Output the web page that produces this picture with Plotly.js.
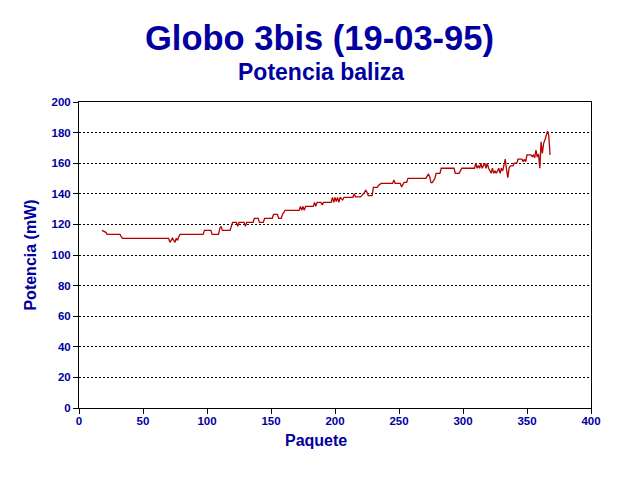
<!DOCTYPE html>
<html>
<head>
<meta charset="utf-8">
<script src="https://cdn.plot.ly/plotly-3.0.1.min.js"></script>
<style>html,body{margin:0;padding:0;background:#fff;}#chart{width:640px;height:480px;}</style>
</head>
<body>
<div id="chart"></div>
<script>
// Data
const paquete = [18,20,21,22,32,33,34,70,71,72,73,74,75,76,77,78,79,97,98,103,104,109,110,111,112,118,119,120,123,124,125,129,130,131,136,137,140,141,144,145,151,152,155,156,158,159,161,172,173,174,175,176,177,183,184,185,186,189,190,191,197,198,199,200,201,202,203,204,206,207,214,215,216,220,223,224,225,226,229,230,233,234,236,245,246,247,251,252,253,254,256,257,271,272,273,274,275,276,278,279,282,283,293,294,297,299,309,310,311,312,313,314,315,316,317,318,319,320,321,322,323,324,325,326,327,328,329,330,331,332,333,334,335,336,337,339,340,342,343,346,347,348,349,350,353,354,355,356,357,358,359,360,361,362,363,364,365,366,367,368];
const potencia = [116.1,115.2,114.8,113.5,113.5,112,110.9,110.9,108.3,109.6,110.9,109.6,108.3,110.9,109.6,112,113.5,113.5,116.1,116.1,113.5,113.5,117.4,118.7,116.1,116.1,118.7,121.3,121.3,118.7,121.3,121.3,118.7,121.3,121.3,124,124,121.3,121.3,124,124,126.6,126.6,124,124,126.6,129.2,129.2,131.8,129.2,131.8,129.2,131.8,131.8,134.4,131.8,134.4,134.4,132.7,134.4,134.4,137.7,134.4,137.7,135,137.7,134.4,137.7,136,137.7,137.7,140,138,138,140.7,142.5,141,138.8,138.8,144.2,144.2,145.5,146.8,146.8,149,146.8,146.8,144.5,146,147.5,147.5,150.1,150.1,151.5,153,151,147.3,147.3,150,153.4,153.4,156.7,156.7,153.4,153.4,156.7,156.7,160,156.7,158.5,156.7,160,156.7,158.4,160,156.7,160,156.7,155,153.4,156.7,153.4,155,153.4,155,156.7,153.4,156.7,155,158,162.7,156,150.5,156.7,158.2,158.2,160,160,162.6,162.6,161,162.6,161,165.4,165.4,164.3,165.4,163.5,168.6,164,166,156.7,174,166.4,173,175.2,178.4,181,178,165.4,161];
const yTicks = [0,20,40,60,80,100,120,140,160,180,200];
const xTicks = [0,50,100,150,200,250,300,350,400];

const blue = '#0000a0';
const fontFam = '"Liberation Sans", Arial, sans-serif';

const trace = {
  x: paquete, y: potencia, type: 'scatter', mode: 'lines',
  line: {color: '#b40000', width: 1.3}, hoverinfo: 'skip'
};

const layout = {
  width: 640, height: 480,
  margin: {l: 79, r: 49, t: 102, b: 72},
  paper_bgcolor: '#fff', plot_bgcolor: '#fff',
  showlegend: false,
  font: {family: fontFam, color: blue},
  xaxis: {
    range: [0, 400], tickvals: xTicks, ticktext: xTicks.map(String),
    showline: true, linecolor: '#000', linewidth: 1, mirror: true,
    ticks: 'outside', ticklen: 5, tickcolor: '#000', tickwidth: 1,
    ticklabelstandoff: -3,
    showgrid: false, zeroline: false,
    tickfont: {family: fontFam, size: 11.5, color: blue, weight: 'bold'}
  },
  yaxis: {
    range: [0, 200], tickvals: yTicks, ticktext: yTicks.map(String),
    showline: true, linecolor: '#000', linewidth: 1, mirror: true,
    ticks: 'outside', ticklen: 5, tickcolor: '#000', tickwidth: 1,
    showgrid: true, gridcolor: '#000', gridwidth: 1, griddash: '2px,2px',
    zeroline: false,
    tickfont: {family: fontFam, size: 11.5, color: blue, weight: 'bold'},
    title: {text: 'Potencia (mW)', font: {family: fontFam, size: 16, color: blue, weight: 'bold'}, standoff: 10}
  },
  annotations: [
    {text: 'Globo 3bis (19-03-95)', xref: 'paper', yref: 'paper',
     x: (319 - 79) / 512, y: 1 + (102 - 38) / 306, xanchor: 'center', yanchor: 'middle',
     showarrow: false, font: {family: fontFam, size: 34.5, color: blue, weight: 'bold'}},
    {text: 'Potencia baliza', xref: 'paper', yref: 'paper',
     x: (321 - 79) / 512, y: 1 + (102 - 72) / 306, xanchor: 'center', yanchor: 'middle',
     showarrow: false, font: {family: fontFam, size: 23, color: blue, weight: 'bold'}},
    {text: 'Paquete', xref: 'paper', yref: 'paper',
     x: (316 - 79) / 512, y: -(440 - 408) / 306, xanchor: 'center', yanchor: 'middle',
     showarrow: false, font: {family: fontFam, size: 16, color: blue, weight: 'bold'}}
  ]
};

Plotly.newPlot('chart', [trace], layout, {staticPlot: true, displayModeBar: false});
</script>
</body>
</html>
